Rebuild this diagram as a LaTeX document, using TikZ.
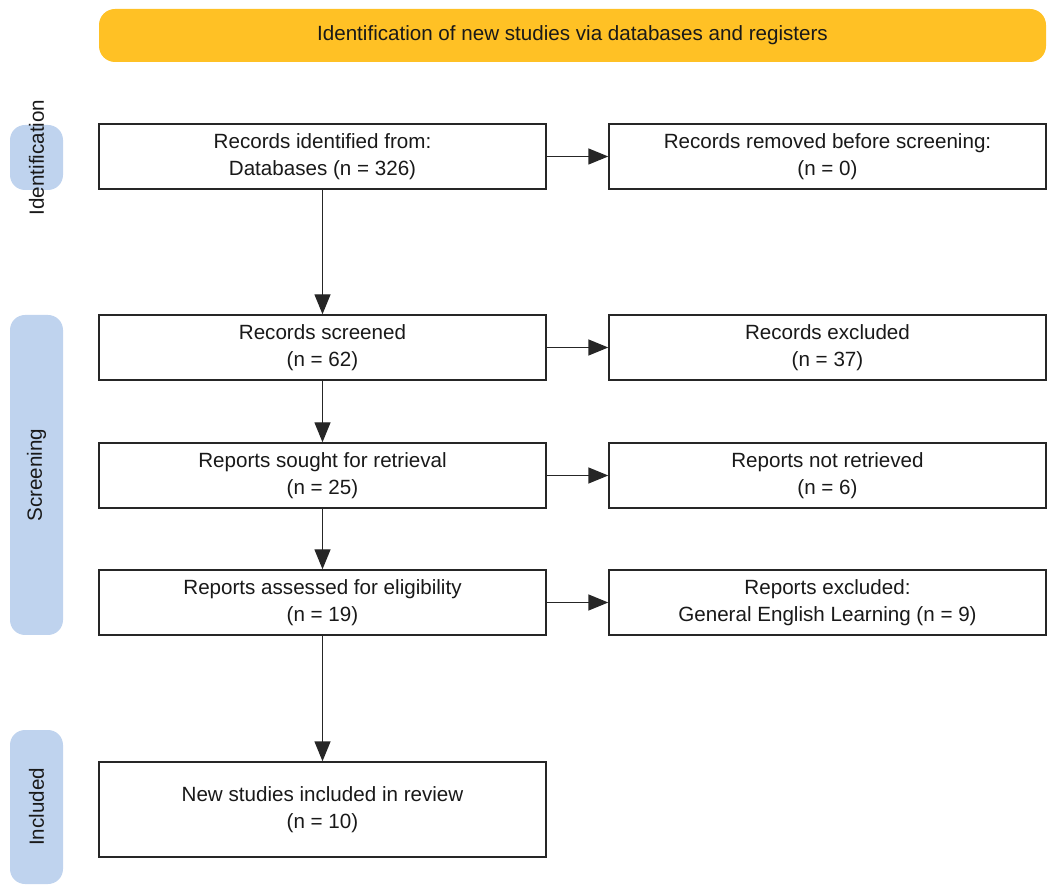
\documentclass[tikz,border=0pt]{standalone}
\usepackage{fontspec}
\setmainfont{Liberation Sans}
\usetikzlibrary{arrows.meta}
\definecolor{bannery}{RGB}{255,193,37}
\definecolor{pillblue}{RGB}{191,211,238}
\begin{document}
\begin{tikzpicture}[x=0.5pt,y=-0.5pt,
  every node/.style={font=\fontsize{10.3}{13.5}\selectfont, text=black!90},
  box/.style={draw=black!85, line width=0.7pt, fill=white, inner sep=0pt, align=center,
    minimum width=223.5pt, minimum height=32.5pt},
  rbox/.style={box, minimum width=218.5pt},
  pill/.style={fill=pillblue, rounded corners=7.5pt, inner sep=0pt, minimum width=26.5pt},
  arr/.style={draw=black!85, line width=0.7pt, -{Triangle[length=10pt,width=8pt]}}]
\useasboundingbox (0,0) rectangle (1049,886);
% banner
\node[fill=bannery, rounded corners=8pt, minimum width=473.5pt, minimum height=26.5pt, inner sep=0pt]
  (banner) at (572.5,35.5) {Identification of new studies via databases and registers};
% side pills
\node[pill, minimum height=32.5pt] (pid) at (36.5,157.5) {};
\node[rotate=90] (lid) at (pid.center) {Identification};
\node[pill, minimum height=160pt] (pscr) at (36.5,475) {};
\node[rotate=90] (lscr) at (pscr.center) {Screening};
\node[pill, minimum height=77pt] (pinc) at (36.5,807) {};
\node[rotate=90] (linc) at (pinc.center) {Included};
% left column
\node[box] (r1) at (322.5,156.5) {Records identified from:\\Databases (n = 326)};
\node[box] (r2) at (322.5,347.5) {Records screened\\(n = 62)};
\node[box] (r3) at (322.5,475.5) {Reports sought for retrieval\\(n = 25)};
\node[box] (r4) at (322.5,602.5) {Reports assessed for eligibility\\(n = 19)};
\node[box, minimum height=47.5pt] (r5) at (322.5,809.5) {New studies included in review\\(n = 10)};
% right column
\node[rbox] (x1) at (827.5,156.5) {Records removed before screening:\\(n = 0)};
\node[rbox] (x2) at (827.5,347.5) {Records excluded\\(n = 37)};
\node[rbox] (x3) at (827.5,475.5) {Reports not retrieved\\(n = 6)};
\node[rbox] (x4) at (827.5,602.5) {Reports excluded:\\General English Learning (n = 9)};
% arrows
\draw[arr] (r1) -- (r2);
\draw[arr] (r2) -- (r3);
\draw[arr] (r3) -- (r4);
\draw[arr] (r4) -- (r5);
\draw[arr] (r1) -- (x1);
\draw[arr] (r2) -- (x2);
\draw[arr] (r3) -- (x3);
\draw[arr] (r4) -- (x4);
\end{tikzpicture}
\end{document}
